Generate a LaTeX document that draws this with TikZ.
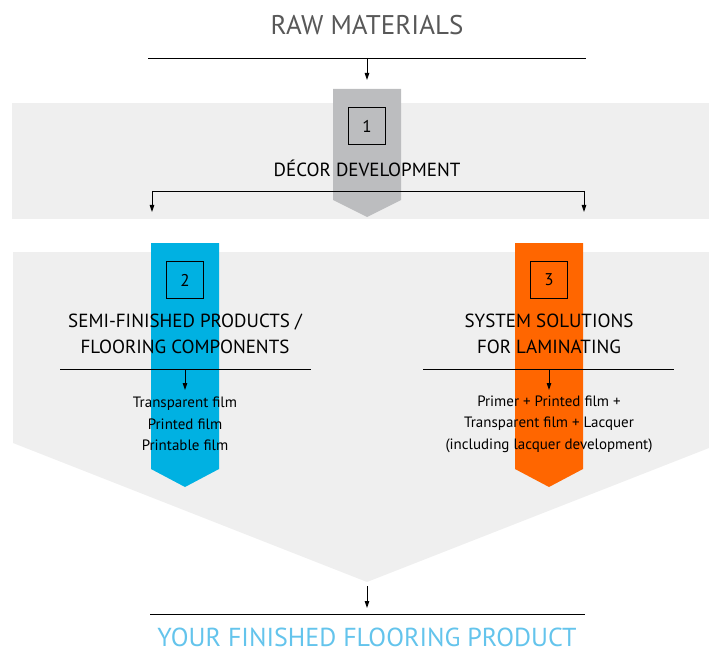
\documentclass[tikz,border=0pt]{standalone}
\usepackage{fontspec}
\setmainfont{PT Sans}
\usetikzlibrary{arrows.meta, positioning, calc}
\definecolor{bandgray}{RGB}{239,239,239}
\definecolor{stepgray}{RGB}{188,189,191}
\definecolor{stepblue}{RGB}{0,177,226}
\definecolor{steporange}{RGB}{255,102,0}
\definecolor{titlegray}{RGB}{88,88,88}
\definecolor{finalblue}{RGB}{100,196,236}
\tikzset{
  flow/.style={-{Triangle[length=7pt,width=4.5pt]}, line width=0.9pt},
  rule/.style={line width=0.9pt},
  numbox/.style={draw, line width=1.1pt, minimum size=37pt, inner sep=0pt, font=\fontsize{17}{20}\selectfont},
  steptitle/.style={align=center, font=\fontsize{19}{26}\selectfont},
  itemlist/.style={align=center, font=\fontsize{15}{21.5}\selectfont}
}
\begin{document}
\begin{tikzpicture}[x=1pt, y=-1pt]
  \useasboundingbox (0,0) rectangle (709,655);
  % background bands
  \fill[bandgray] (12,103) rectangle (709,219);
  \fill[bandgray] (13,252) -- (709,252) -- (709,448) -- (367,582) -- (13,443) -- cycle;
  % step arrows
  \fill[stepgray] (333,89) -- (401,89) -- (401,200) -- (367,217) -- (333,200) -- cycle;
  \fill[stepblue] (151,243) -- (219,243) -- (219,469) -- (185,487) -- (151,469) -- cycle;
  \fill[steporange] (515,243) -- (583,243) -- (583,469) -- (549,487) -- (515,469) -- cycle;

  % top
  \node[text=titlegray, font=\fontsize{27}{30}\selectfont] (raw) at (367,25) {RAW MATERIALS};
  \coordinate (rawL) at (148,58);
  \coordinate (rawR) at (586,58);
  \coordinate (rawM) at (367,58);
  \coordinate (oneTop) at (367,80);
  \draw[rule] (rawL) -- (rawR);
  \draw[flow] (rawM) -- (oneTop);

  % step 1
  \node[numbox] (n1) at (367,126) {1};
  \node[steptitle] (decor) at (367,168) {DÉCOR DEVELOPMENT};
  \coordinate (splitL) at (152,191);
  \coordinate (splitR) at (584,191);
  \coordinate (toSemi) at (152,212);
  \coordinate (toSys) at (584,212);
  \draw[flow] (toSemi |- splitL) -- (toSemi);
  \draw[flow] (toSys |- splitR) -- (toSys);
  \draw[rule] (splitL) -- (splitR);

  % step 2
  \node[numbox] (n2) at (185,280) {2};
  \node[steptitle] (semi) at (185,334) {SEMI-FINISHED PRODUCTS /\\FLOORING COMPONENTS};
  \coordinate (semiL) at (60,369);
  \coordinate (semiR) at (311,369);
  \coordinate (semiTip) at (185,390);
  \draw[rule] (semiL) -- (semiR);
  \draw[flow] (semiTip |- semiL) -- (semiTip);
  \node[itemlist] (films) at (185,424) {Transparent film\\Printed film\\Printable film};

  % step 3
  \node[numbox] (n3) at (549,280) {3};
  \node[steptitle] (sys) at (549,334) {SYSTEM SOLUTIONS\\FOR LAMINATING};
  \coordinate (sysL) at (423,369);
  \coordinate (sysR) at (674,369);
  \coordinate (sysTip) at (549,390);
  \draw[rule] (sysL) -- (sysR);
  \draw[flow] (sysTip |- sysL) -- (sysTip);
  \node[itemlist] (layers) at (549,424) {Primer + Printed film +\\Transparent film + Lacquer\\(including lacquer development)};

  % bottom
  \coordinate (apex) at (367,586);
  \coordinate (endTip) at (367,608);
  \coordinate (endL) at (150,614);
  \coordinate (endR) at (585,614);
  \draw[flow] (apex) -- (endTip);
  \draw[rule] (endL) -- (endR);
  \node[text=finalblue, font=\fontsize{26}{30}\selectfont] (final) at (367,637) {YOUR FINISHED FLOORING PRODUCT};
\end{tikzpicture}
\end{document}
